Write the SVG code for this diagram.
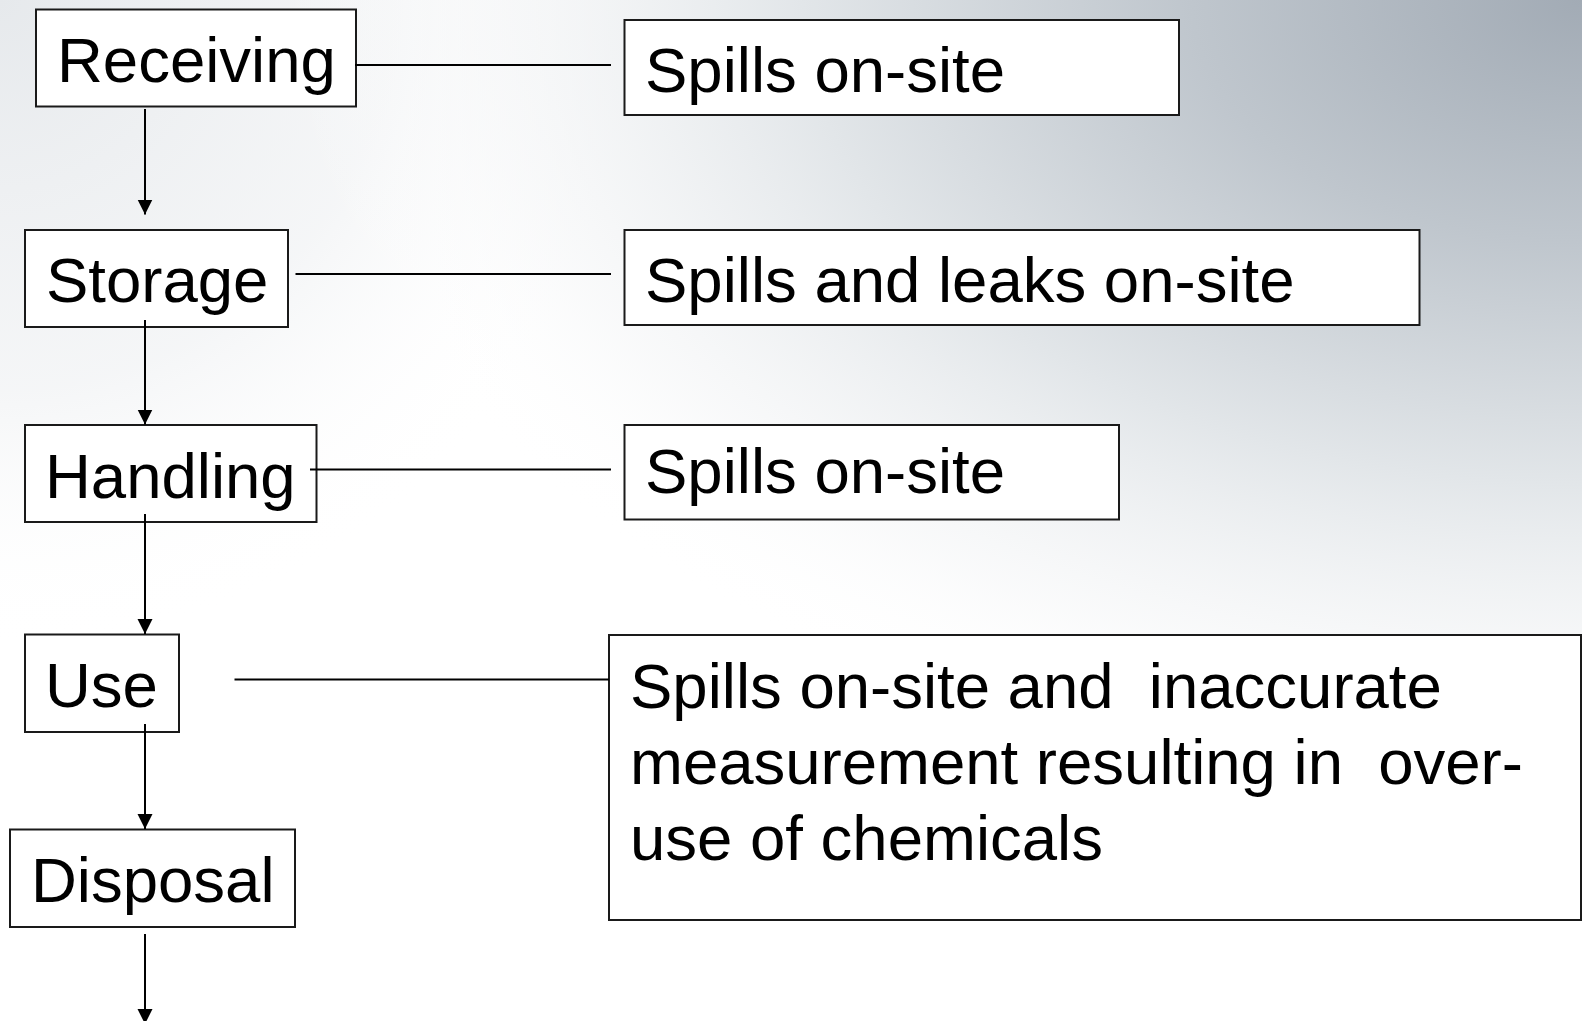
<svg xmlns="http://www.w3.org/2000/svg" width="1582" height="1021" viewBox="0 0 1582 1021">
  <defs>
    <radialGradient id="bgTR" gradientUnits="userSpaceOnUse" cx="1582" cy="0" r="1300" gradientTransform="translate(1582 0) scale(1 0.62) translate(-1582 0)">
      <stop offset="0" stop-color="#a2abb5"/>
      <stop offset="0.3" stop-color="#bfc6cd"/>
      <stop offset="0.6" stop-color="#e2e6e9"/>
      <stop offset="0.85" stop-color="#f6f7f8" stop-opacity="0.6"/>
      <stop offset="1" stop-color="#ffffff" stop-opacity="0"/>
    </radialGradient>
    <radialGradient id="bgTL" gradientUnits="userSpaceOnUse" cx="0" cy="0" r="650">
      <stop offset="0" stop-color="#e6e9ec"/>
      <stop offset="0.6" stop-color="#eef0f2" stop-opacity="0.6"/>
      <stop offset="1" stop-color="#ffffff" stop-opacity="0"/>
    </radialGradient>
    <marker id="arrow" markerUnits="userSpaceOnUse" markerWidth="16" markerHeight="16" refX="15" refY="7.5" orient="auto">
      <path d="M0,0 L15,7.5 L0,15 z" fill="#000"/>
    </marker>
  </defs>
  <style>
    .box { fill: #ffffff; stroke: #1a1a1a; stroke-width: 2; }
    .lbl { font-family: "Liberation Sans", Arial, sans-serif; font-size: 63.5px; fill: #000; }
    .con { stroke: #000; stroke-width: 2; fill: none; }
  </style>

  <rect x="0" y="0" width="1582" height="1021" fill="#ffffff"/>
  <rect x="0" y="0" width="1582" height="1021" fill="url(#bgTL)"/>
  <rect x="0" y="0" width="1582" height="1021" fill="url(#bgTR)"/>

  <g id="receiving">
    <rect class="box" x="36" y="9.5" width="320" height="97"/>
    <text class="lbl" x="57" y="82">Receiving</text>
  </g>
  <g id="storage">
    <rect class="box" x="25" y="230" width="263" height="97"/>
    <text class="lbl" x="46" y="302">Storage</text>
  </g>
  <g id="handling">
    <rect class="box" x="25" y="425" width="291.5" height="97"/>
    <text class="lbl" x="45" y="498">Handling</text>
  </g>
  <g id="use">
    <rect class="box" x="25" y="634.5" width="154" height="97.5"/>
    <text class="lbl" x="45" y="707">Use</text>
  </g>
  <g id="disposal">
    <rect class="box" x="10" y="829.5" width="285" height="97.5"/>
    <text class="lbl" x="31" y="902">Disposal</text>
  </g>

  <g id="impact-receiving">
    <rect class="box" x="624.5" y="20" width="554.5" height="95"/>
    <text class="lbl" x="645" y="92">Spills on-site</text>
  </g>
  <g id="impact-storage">
    <rect class="box" x="624.5" y="230" width="795" height="95"/>
    <text class="lbl" x="645" y="302">Spills and leaks on-site</text>
  </g>
  <g id="impact-handling">
    <rect class="box" x="624.5" y="425" width="494.5" height="94.5"/>
    <text class="lbl" x="645" y="493">Spills on-site</text>
  </g>
  <g id="impact-use">
    <rect class="box" x="609" y="635" width="972" height="285"/>
    <text class="lbl" xml:space="preserve"><tspan x="630" y="708">Spills on-site and  inaccurate</tspan><tspan x="630" y="784">measurement resulting in  over-</tspan><tspan x="630" y="860">use of chemicals</tspan></text>
  </g>

  <g id="connectors">
    <line class="con" x1="355" y1="65" x2="611" y2="65"/>
    <line class="con" x1="295.5" y1="274" x2="611" y2="274"/>
    <line class="con" x1="310" y1="469.5" x2="611" y2="469.5"/>
    <line class="con" x1="234.5" y1="679.5" x2="609" y2="679.5"/>
    <line class="con" x1="145" y1="109" x2="145" y2="214.5" marker-end="url(#arrow)"/>
    <line class="con" x1="145" y1="320" x2="145" y2="424.5" marker-end="url(#arrow)"/>
    <line class="con" x1="145" y1="514" x2="145" y2="634" marker-end="url(#arrow)"/>
    <line class="con" x1="145" y1="724" x2="145" y2="829" marker-end="url(#arrow)"/>
    <line class="con" x1="145" y1="934" x2="145" y2="1024" marker-end="url(#arrow)"/>
  </g>
</svg>
